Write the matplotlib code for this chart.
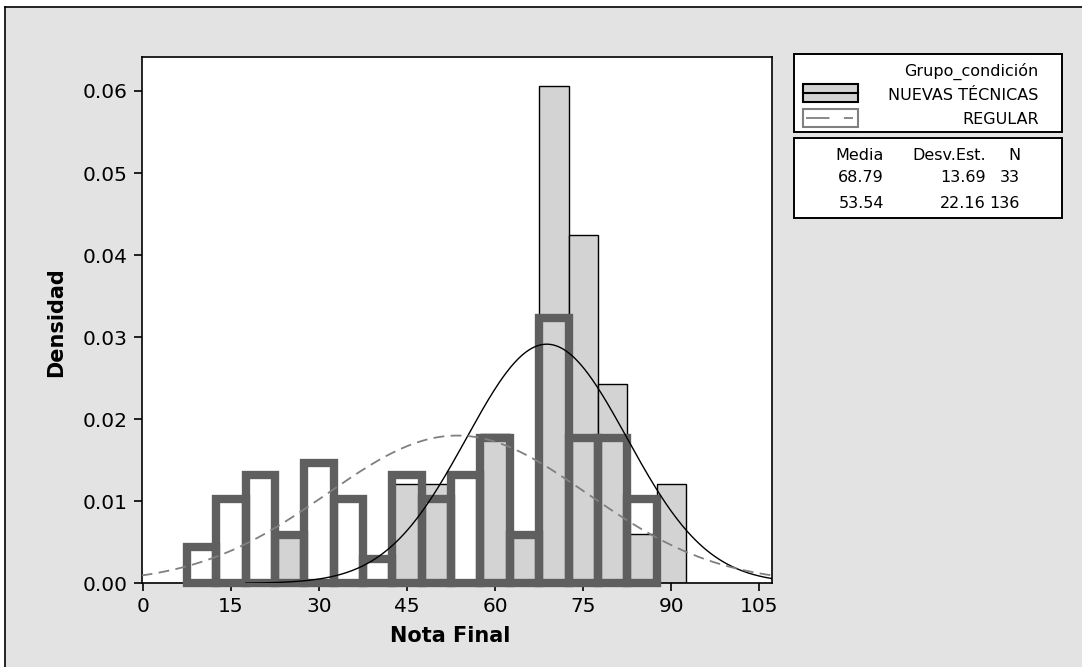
import matplotlib
matplotlib.use("Agg")
import matplotlib.pyplot as plt
import numpy as np
from matplotlib.patches import Rectangle
from matplotlib.lines import Line2D

# histogram bins (centres, width 5) and counts
bin_centres = [10, 15, 20, 25, 30, 35, 40, 45, 50, 55, 60, 65, 70, 75, 80, 85, 90]
nuevas_counts = [0, 0, 0, 1, 0, 0, 0, 2, 2, 0, 3, 1, 10, 7, 4, 1, 2]
regular_counts = [3, 7, 9, 4, 10, 7, 2, 9, 7, 9, 12, 4, 22, 12, 12, 7, 0]
bin_width = 5

groups = ["NUEVAS TÉCNICAS", "REGULAR"]
medias = [68.79, 53.54]
desv_est = [13.69, 22.16]
n_obs = [33, 136]

x_ticks = [0, 15, 30, 45, 60, 75, 90, 105]
y_ticks = [0.00, 0.01, 0.02, 0.03, 0.04, 0.05, 0.06]

W, H = 1082, 667
BG = "#e3e3e3"
FILL = "#d3d3d3"
THICK = "#5f5f5f"
DASH = "#808080"


def px(x, y):
    return x / W, 1 - y / H


def normal_pdf(x, m, s):
    return np.exp(-0.5 * ((x - m) / s) ** 2) / (s * np.sqrt(2 * np.pi))


fig = plt.figure(figsize=(W / 100, H / 100), dpi=100)
fig.patch.set_facecolor("white")

# grey panel with border on top and left
x0, y0 = px(5, 7)
fig.add_artist(Rectangle((x0, 0), 1 - x0, y0, transform=fig.transFigure,
                         facecolor=BG, edgecolor="none", zorder=-10))
fig.add_artist(Line2D([x0, 1], [y0, y0], transform=fig.transFigure, color="black", lw=1.2))
fig.add_artist(Line2D([x0, x0], [0, y0], transform=fig.transFigure, color="black", lw=1.2))

ax_l, ax_r, ax_t, ax_b = 141.7, 771.7, 57.3, 583.3
ax = fig.add_axes([ax_l / W, 1 - ax_b / H, (ax_r - ax_l) / W, (ax_b - ax_t) / H])
ax.set_facecolor("white")

xmin, xmax = -0.2, 107.1

# NUEVAS TÉCNICAS bars: grey fill, thin black edge
nc = [c for c, k in zip(bin_centres, nuevas_counts) if k > 0]
nd = [k / (n_obs[0] * bin_width) for k in nuevas_counts if k > 0]
ax.bar(nc, nd, width=bin_width, color=FILL, edgecolor="black", linewidth=1.0, zorder=2)

# REGULAR bars: no fill, thick dark grey edge
rc = [c for c, k in zip(bin_centres, regular_counts) if k > 0]
rd = [k / (n_obs[1] * bin_width) for k in regular_counts if k > 0]
rbars = ax.bar(rc, rd, width=bin_width, fill=False, edgecolor=THICK, linewidth=6.0, zorder=3)
for b in rbars:
    b.set_clip_on(False)
    b.set_joinstyle("miter")

# fitted normal curves
xs1 = np.linspace(17.5, xmax, 400)
ax.plot(xs1, normal_pdf(xs1, medias[0], desv_est[0]), color="black", lw=1.0, zorder=4)
xs2 = np.linspace(xmin, xmax, 400)
ln, = ax.plot(xs2, normal_pdf(xs2, medias[1], desv_est[1]), color=DASH, lw=1.3, zorder=4)
ln.set_dashes((6, 3.5))

ax.set_xlim(xmin, xmax)
ax.set_ylim(0, 0.0641)
ax.set_xticks(x_ticks)
ax.set_yticks(y_ticks)
ax.set_yticklabels([f"{v:.2f}" for v in y_ticks])
ax.tick_params(axis="both", length=6, width=1.2, labelsize=14.5, pad=4, color="black")
for s in ax.spines.values():
    s.set_linewidth(1.2)

ax.set_xlabel("Nota Final", fontsize=15, fontweight="bold")
ax.xaxis.set_label_coords((449.7 - ax_l) / (ax_r - ax_l), -(626 - ax_b) / (ax_b - ax_t))
ax.set_ylabel("Densidad", fontsize=15, fontweight="bold")
ax.yaxis.set_label_coords(-(ax_l - 66) / (ax_r - ax_l), (ax_b - 321.7) / (ax_b - ax_t))

# legend box 1
fs = 11.5
bx0, bx1 = 794.3, 1061.7
bl, bt = px(bx0, 131.7)
br, btop = px(bx1, 54)
fig.add_artist(Rectangle((bl, bt), br - bl, btop - bt, transform=fig.transFigure,
                         facecolor="white", edgecolor="black", lw=1.4))
fig.text(*px(1038.5, 71.7), "Grupo_condición", ha="right", va="center", fontsize=fs)
fig.text(*px(1038.5, 95), groups[0], ha="right", va="center", fontsize=fs)
fig.text(*px(1038.5, 120), groups[1], ha="right", va="center", fontsize=fs)

# legend symbols
p0 = px(803.3, 102.3)
p1 = px(858.3, 84.3)
fig.add_artist(Rectangle(p0, p1[0] - p0[0], p1[1] - p0[1], transform=fig.transFigure,
                         facecolor=FILL, edgecolor="black", lw=1.5))
fig.add_artist(Line2D([p0[0], p1[0]], [px(0, 93.3)[1]] * 2, transform=fig.transFigure,
                      color="black", lw=1.5))
q0 = px(803.3, 127.3)
q1 = px(858.3, 109)
fig.add_artist(Rectangle(q0, q1[0] - q0[0], q1[1] - q0[1], transform=fig.transFigure,
                         facecolor="white", edgecolor=DASH, lw=1.5))
dl = Line2D([px(806, 0)[0], px(853, 0)[0]], [px(0, 118.2)[1]] * 2, transform=fig.transFigure,
            color=DASH, lw=1.3)
dl.set_dashes((13, 8))
fig.add_artist(dl)

# legend box 2: summary table
sl, sb = px(bx0, 218.3)
sr, st = px(bx1, 138.3)
fig.add_artist(Rectangle((sl, sb), sr - sl, st - sb, transform=fig.transFigure,
                         facecolor="white", edgecolor="black", lw=1.4))
col_x = [884, 986, 1020]
fig.text(*px(col_x[0], 156), "Media", ha="right", va="center", fontsize=fs)
fig.text(*px(col_x[1], 156), "Desv.Est.", ha="right", va="center", fontsize=fs)
fig.text(*px(col_x[2], 156), "N", ha="right", va="center", fontsize=fs)
for row_y, m, s, n in zip([177, 203], medias, desv_est, n_obs):
    fig.text(*px(col_x[0], row_y), f"{m:.2f}", ha="right", va="center", fontsize=fs)
    fig.text(*px(col_x[1], row_y), f"{s:.2f}", ha="right", va="center", fontsize=fs)
    fig.text(*px(col_x[2], row_y), f"{n}", ha="right", va="center", fontsize=fs)

fig.savefig("out.png", dpi=100, facecolor=fig.get_facecolor())
